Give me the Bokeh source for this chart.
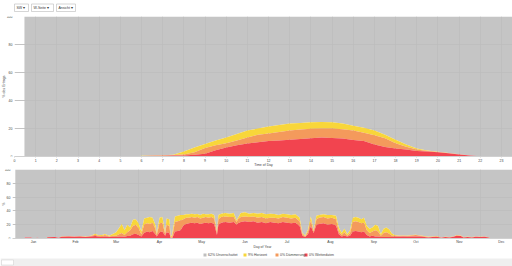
import math
from bokeh.plotting import figure
from bokeh.layouts import column, row
from bokeh.models import Range1d, FixedTicker, ColumnDataSource, LabelSet, Label
from bokeh.core.properties import value
from bokeh.embed import file_html
from bokeh.resources import INLINE

FONT = "Liberation Sans"

# ---------------- data ----------------
dropdown_labels = ["SW \u25BE", "W-Seite \u25BE", "Ansicht \u25BE"]

series_names = ["62% Unverschattet", "9% Horizont", "0% D\u00e4mmerung", "0% Wetterdaten"]
colors = ["#bfbfbf", "#f8d63a", "#f49a5c", "#f2444f"]

# daily profile (hour of day) – cumulative tops in percent
hours = [0.47, 1, 2, 3, 4, 5, 5.8, 6, 6.5, 7, 7.5, 8, 8.5, 9, 9.5, 10, 10.5, 11, 11.5, 12,
         12.5, 13, 13.5, 14, 14.5, 15, 15.5, 16, 16.5, 17, 17.5, 18, 18.5, 19, 19.5, 20,
         20.5, 21, 21.5, 22, 23, 23.55]
hour_red = [0, 0, 0, 0, 0, 0, 0, 0.3, 0.5, 0.6, 0.7, 0.8, 1.2, 2.0, 4.5, 6.5, 8.0, 9.3, 10.2, 11.0,
            11.5, 12.0, 12.5, 13.0, 13.5, 13.3, 12.8, 11.8, 11.0, 8.5, 6.8, 5.8, 5.0, 4.0, 3.5, 3.0,
            2.3, 1.5, 0.8, 0.2, 0, 0]
hour_orange = [0, 0, 0, 0, 0, 0, 0, 0.4, 0.6, 0.8, 1.0, 1.5, 3.0, 6.0, 8.0, 9.5, 11.5, 13.5, 15.5, 16.5,
               17.5, 18.5, 19.2, 19.8, 20.0, 20.0, 19.5, 18.5, 17.0, 15.2, 13.0, 9.5, 7.0, 5.0, 4.0, 3.2,
               2.4, 1.6, 0.8, 0.2, 0, 0]
hour_yellow = [0, 0, 0, 0, 0, 0, 0, 0.5, 0.7, 0.9, 1.2, 3.5, 6.5, 9.0, 11.5, 13.5, 16.0, 18.5, 20.0, 21.5,
               22.5, 23.5, 24.0, 24.5, 24.7, 24.5, 23.5, 22.0, 20.5, 18.5, 15.5, 12.0, 8.5, 5.8, 4.2, 3.4,
               2.5, 1.6, 0.8, 0.2, 0, 0]
hour_ticks = list(range(0, 24))

# yearly profile (day of year) – cumulative tops in percent
days = [2, 8, 9, 13, 15, 18, 20, 24, 25, 30, 33, 35, 40, 44, 48, 52, 56, 59, 61, 64, 66, 69, 72, 74,
        76, 78, 80, 82, 84, 86, 88, 90, 92, 94, 96, 98, 100, 102, 103, 105, 107, 109, 110, 112, 113,
        114, 116, 118, 120, 122, 124, 126, 128, 130, 132, 134, 136, 138, 140, 142, 144, 146, 147, 149,
        152, 155, 158, 160, 161, 163, 166, 169, 172, 175, 178, 181, 184, 187, 190, 193, 196, 199, 202,
        205, 207, 209, 211, 213, 215, 217, 219, 222, 225, 228, 231, 233, 235, 237, 239, 241, 243, 245,
        247, 249, 251, 253, 255, 257, 259, 261, 263, 265, 267, 269, 271, 273, 276, 279, 282, 285, 288,
        291, 294, 297, 300, 303, 306, 309, 312, 315, 317, 320, 322, 325, 328, 331, 334, 337, 340, 342,
        357]
day_red = [0, 0, 1.5, 1.5, 0.5, 1.2, 0, 0, 1.8, 2, 1, 2.5, 3, 2.5, 3, 2.2, 3, 3.5, 3, 2, 3, 2, 2.5, 2,
           3, 3, 2.5, 3.5, 4, 6, 7, 5, 3, 8, 10, 9, 11, 6, 3, 9, 10, 4, 9, 8, 0,
           0, 10, 11, 12, 19, 21, 22, 23, 22, 23, 21, 22, 23, 22, 23, 21, 5, 20, 23,
           24, 23, 24, 20, 22, 24, 25, 24, 25, 23, 24, 22, 24, 23, 22, 24, 23, 22, 23,
           18, 4, 2, 6, 18, 8, 20, 21, 22, 20, 21, 19, 6, 3, 4, 3, 4, 10, 11,
           10, 9, 10, 5, 3, 4, 3, 3, 2, 2, 2, 2, 2, 3, 2.5, 3, 2.5, 3, 3,
           3, 2, 1.5, 2, 2.5, 1, 2, 1.5, 2.5, 4, 3.5, 1.5, 2, 1.5, 2.5, 2, 2.5, 1.5, 0,
           0]
day_orange = [0, 0, 1.5, 1.5, 0.5, 1.2, 0, 0, 1.8, 2, 1, 2.6, 3.2, 2.8, 3.3, 2.6, 3.5, 5.5, 4, 3.5, 5, 3, 4, 4,
              6, 8, 5, 9, 12, 18, 20, 15, 6, 20, 22, 21, 23, 14, 5, 22, 23, 6, 20, 18, 1,
              2, 24, 25, 26, 28, 30, 30, 31, 30, 31, 29, 30, 31, 30, 31, 29, 8, 28, 31,
              32, 31, 31, 24, 28, 31, 32, 31, 32, 30, 31, 29, 30, 30, 29, 31, 30, 29, 30,
              25, 6, 3, 10, 26, 10, 28, 30, 31, 29, 30, 28, 10, 5, 9, 4, 8, 24, 25,
              24, 22, 23, 12, 8, 10, 12, 10, 4, 8, 9, 7, 4, 4, 3.5, 4, 3.5, 4.5, 5,
              4, 3, 2, 2.5, 3, 1.5, 2.2, 1.8, 3, 4.5, 4, 1.8, 2.3, 1.8, 2.8, 2.2, 2.8, 1.5, 0,
              0]
day_yellow = [0, 0, 1.5, 1.5, 0.5, 1.2, 0, 0, 2, 2.2, 1, 2.8, 3.5, 3, 3.6, 3, 4, 7, 5, 5, 6.5, 4, 7, 9,
              15, 21, 12, 20, 16, 27, 28, 22, 10, 29, 30, 31, 30, 20, 7, 30, 31, 8, 29, 28, 2,
              6, 32, 33, 34, 34, 35, 35, 36, 35, 35.5, 34, 36, 35, 35, 36, 34, 10, 34, 36,
              37, 36, 37, 26, 30, 37, 38, 36, 37, 36, 37, 35, 36, 35.5, 34, 36, 35, 34, 35,
              30, 8, 4, 13, 32, 12, 33, 34, 35, 34, 34, 33, 16, 8, 14, 6, 12, 30, 31,
              30, 28, 30, 18, 14, 16, 20, 18, 6, 14, 16, 13, 7, 5, 4, 4.5, 4, 5, 5.5,
              4.5, 3.5, 2.5, 3, 3.5, 1.5, 2.5, 2, 3, 5, 4.5, 2, 2.5, 2, 3, 2.5, 3, 1.7, 0,
              0]
month_labels = ["Jan", "Feb", "Mar", "Apr", "May", "Jun", "Jul", "Aug", "Sep", "Oct", "Nov", "Dec"]
month_mid = [15, 45, 74, 105, 135, 166, 196, 227, 258, 288, 319, 349]
month_start = [0, 31, 59, 90, 120, 151, 181, 212, 243, 273, 304, 334]
y_ticks = [0, 20, 40, 60, 80, 100]

W = 512
TXT = "#444444"


def base(width, height, xr, yr, top, bottom, left=0, axes=False):
    kw = {} if axes else dict(x_axis_location=None)
    p = figure(width=width, height=height, x_range=xr, y_range=yr,
               output_backend="svg", toolbar_location=None, y_axis_location=None,
               min_border_left=left, min_border_right=0,
               min_border_top=top, min_border_bottom=bottom, **kw)
    p.background_fill_color = "#ffffff"
    p.border_fill_color = "#ffffff"
    p.outline_line_color = None
    if not axes:
        p.grid.visible = False
    return p


def chart(width, height, xr, yr, top, bottom, xlabel, xticks, gridticks):
    p = base(width, height, xr, yr, top, bottom, left=1, axes=True)
    ax = p.xaxis
    ax.major_label_text_font_size = "3.5px"
    ax.major_label_text_font = FONT
    ax.major_label_text_color = TXT
    ax.axis_label = xlabel
    ax.axis_label_text_font_size = "3.5px"
    ax.axis_label_text_font = FONT
    ax.axis_label_text_font_style = "normal"
    ax.axis_label_text_color = TXT
    ax.major_tick_out = 1
    ax.major_tick_in = 0
    ax.minor_tick_out = 0
    ax.minor_tick_in = 0
    ax.major_label_standoff = 1
    ax.axis_label_standoff = -2
    ax.axis_line_color = "#d0d0d0"
    ax.major_tick_line_color = "#d0d0d0"
    ax.ticker = FixedTicker(ticks=xticks)
    p.xgrid.ticker = FixedTicker(ticks=gridticks)
    p.ygrid.ticker = FixedTicker(ticks=y_ticks)
    p.grid.grid_line_color = "#9a9a9a"
    p.grid.grid_line_width = 0.6
    return p


def layers(p, x, r, o, yl):
    p.varea(x=x, y1=yl, y2=[100] * len(x), fill_color=colors[0], fill_alpha=0.9)
    p.varea(x=x, y1=o, y2=yl, fill_color=colors[1])
    p.varea(x=x, y1=r, y2=o, fill_color=colors[2])
    p.varea(x=x, y1=[0] * len(x), y2=r, fill_color=colors[3])


def strip(width, height, yr, top, bottom, ylabel):
    # left label strip; Bokeh aligns its frame with the chart's frame in the row
    s = base(width, height, Range1d(0, width), yr, top, bottom)
    src = ColumnDataSource(dict(x=[width - 1] * len(y_ticks), y=y_ticks,
                                t=[str(t) for t in y_ticks]))
    s.add_layout(LabelSet(x="x", y="y", text="t", source=src, text_align="right",
                          text_baseline="middle", text_font=value(FONT),
                          text_font_size=value("3.5px"), text_color=TXT))
    s.add_layout(Label(x=3.5, y=50, text=ylabel, angle=math.pi / 2, text_align="center",
                       text_baseline="middle", text_font=FONT, text_font_size="3.5px",
                       text_color=TXT))
    return s


# ---------------- header ----------------
hdr = base(W, 15, Range1d(0, W), Range1d(15, 0), 0, 0)
box_l = [14, 31, 56]
box_r = [28, 53, 75]
hdr.quad(left=box_l, right=box_r, top=[3.5] * 3, bottom=[11] * 3,
         fill_color="#ffffff", line_color="#bbbbbb", line_width=0.6)
hdr.text(x=[b + 2 for b in box_l], y=[7.3] * 3, text=dropdown_labels, text_baseline="middle",
         text_font=value(FONT), text_font_size="3.5px", text_color="#333333")

# ---------------- top chart ----------------
SW1, H1, T1, B1 = 13, 154, 1, 13
yr1 = Range1d(0, 100)
p1 = chart(W - SW1, H1, Range1d(0, 23.52), yr1, T1, B1, "Time of Day", hour_ticks, hour_ticks)
layers(p1, hours, hour_red, hour_orange, hour_yellow)
s1 = strip(SW1, H1, yr1, T1, B1, "% des Ertrags")

# ---------------- bottom chart ----------------
SW2, H2, T2, B2 = 11, 83, 0, 14
yr2 = Range1d(0, 100)
p2 = chart(W - SW2, H2, Range1d(0, 357), yr2, T2, B2, "Day of Year", month_mid, month_start)
p2.xaxis.major_label_overrides = {m: l for m, l in zip(month_mid, month_labels)}
p2.xaxis.major_tick_out = 0
layers(p2, days, day_red, day_orange, day_yellow)
s2 = strip(SW2, H2, yr2, T2, B2, "%")

# ---------------- footer: legend + grey band ----------------
ft = base(W, 14, Range1d(0, W), Range1d(14, 0), 0, 0)
ft.quad(left=[0], right=[W], top=[6], bottom=[14], fill_color="#efefef", line_color=None)
ft.quad(left=[1], right=[13], top=[7.5], bottom=[12.5], fill_color="#ffffff",
        line_color="#cccccc", line_width=0.5)
sw_x = [203, 243, 275, 304]
ft.quad(left=sw_x, right=[x + 3 for x in sw_x], top=[1] * 4, bottom=[4] * 4,
        fill_color=colors, line_color=None)
ft.text(x=[x + 4.5 for x in sw_x], y=[2.6] * 4, text=series_names, text_baseline="middle",
        text_font=value(FONT), text_font_size="3.5px", text_color=TXT)

layout = column(hdr, row(s1, p1, spacing=0), row(s2, p2, spacing=0), ft, spacing=0)
open("out.html", "w").write(file_html(layout, INLINE))
